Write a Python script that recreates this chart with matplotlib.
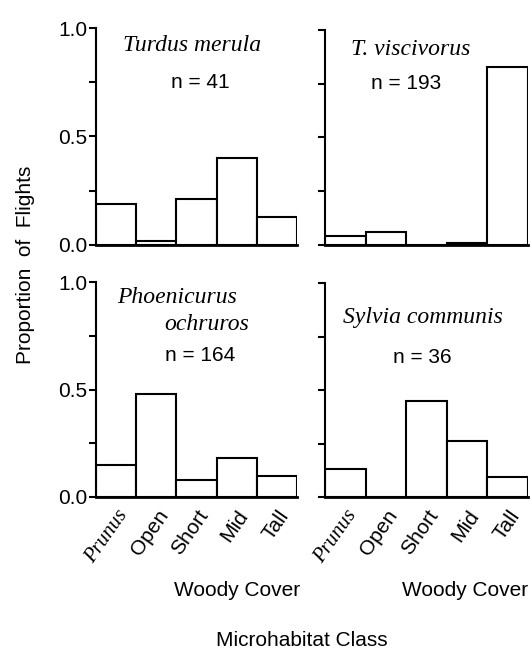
"""Flight microhabitat proportions for four species, 2x2 bar panels."""

import matplotlib

matplotlib.use("Agg")
import matplotlib.pyplot as plt
import numpy as np

classes = ["Prunus", "Open", "Short", "Mid", "Tall"]
turdus_merula = [0.19, 0.02, 0.21, 0.40, 0.13]
t_viscivorus = [0.04, 0.06, 0.0, 0.01, 0.83]
phoenicurus = [0.15, 0.48, 0.08, 0.18, 0.10]
sylvia = [0.13, 0.0, 0.45, 0.26, 0.095]
n_obs = [41, 193, 164, 36]

SANS = "Liberation Sans"
SERIF = "Liberation Serif"
plt.rcParams["font.family"] = SANS
FS = 15

W, H = 532, 652
fig = plt.figure(figsize=(W / 100, H / 100), dpi=100)


def box(x0, x1, y0, y1):
    # pixel box -> figure fraction [left, bottom, width, height]
    return [x0 / W, 1 - y0 / H, (x1 - x0) / W, (y0 - y1) / H]


# rect, values, y labels?, x labels?, x of "Woody Cover" right edge
panels = [
    (box(96, 297, 245, 28), turdus_merula, True, False, None),
    (box(325, 528, 245, 30), t_viscivorus, False, False, None),
    (box(96, 297, 497, 282), phoenicurus, True, True, 4.58),
    (box(325, 528, 497, 283), sylvia, False, True, 4.5),
]

axes = []
for rect, vals, ylab, xlab, wc_x in panels:
    ax = fig.add_axes(rect)
    x = np.arange(len(classes))
    ax.bar(x, vals, width=1.0, color="white", edgecolor="black", linewidth=1.5)
    ax.set_xlim(-0.5, 4.5)
    ax.set_ylim(0, 1.0)
    for side in ("top", "right"):
        ax.spines[side].set_visible(False)
    ax.spines["left"].set_linewidth(1.5)
    ax.spines["bottom"].set_linewidth(2.0)
    ax.set_yticks([0, 0.25, 0.5, 0.75, 1.0])
    if ylab:
        ax.set_yticklabels(["0.0", "", "0.5", "", "1.0"], fontsize=FS)
    else:
        ax.set_yticklabels([])
    ax.tick_params(axis="y", direction="out", length=5, width=1.5, pad=1)
    ax.tick_params(axis="x", length=0, pad=7)
    ax.set_xticks(x)
    if xlab:
        labels = ax.set_xticklabels(classes, rotation=55, ha="right",
                                    rotation_mode="anchor", fontsize=FS)
        labels[0].set_fontfamily(SERIF)
        labels[0].set_fontstyle("italic")
        ax.text(wc_x, -0.435, "Woody Cover", ha="right", va="center",
                fontsize=FS, clip_on=False)
    else:
        ax.set_xticklabels([])
    axes.append(ax)

sp = dict(fontfamily=SERIF, fontstyle="italic", fontsize=17)
axes[0].text(1.9, 0.92, "Turdus merula", ha="center", va="center", **sp)
axes[0].text(2.1, 0.75, f"n = {n_obs[0]}", ha="center", va="center", fontsize=FS)
axes[1].text(1.6, 0.91, "T. viscivorus", ha="center", va="center", **sp)
axes[1].text(1.5, 0.75, f"n = {n_obs[1]}", ha="center", va="center", fontsize=FS)
axes[2].text(0.02, 0.93, "Phoenicurus", ha="left", va="center", **sp)
axes[2].text(3.3, 0.80, "ochruros", ha="right", va="center", **sp)
axes[2].text(2.1, 0.66, f"n = {n_obs[2]}", ha="center", va="center", fontsize=FS)
axes[3].text(1.9, 0.84, "Sylvia communis", ha="center", va="center", **sp)
axes[3].text(1.9, 0.65, f"n = {n_obs[3]}", ha="center", va="center", fontsize=FS)

fig.text(26 / W, 1 - 265 / H, "Proportion  of  Flights", rotation=90,
         ha="center", va="center", fontsize=FS)
fig.text(302 / W, 1 - 641 / H, "Microhabitat Class", ha="center",
         va="center", fontsize=FS)

fig.savefig("out.png", dpi=100)
